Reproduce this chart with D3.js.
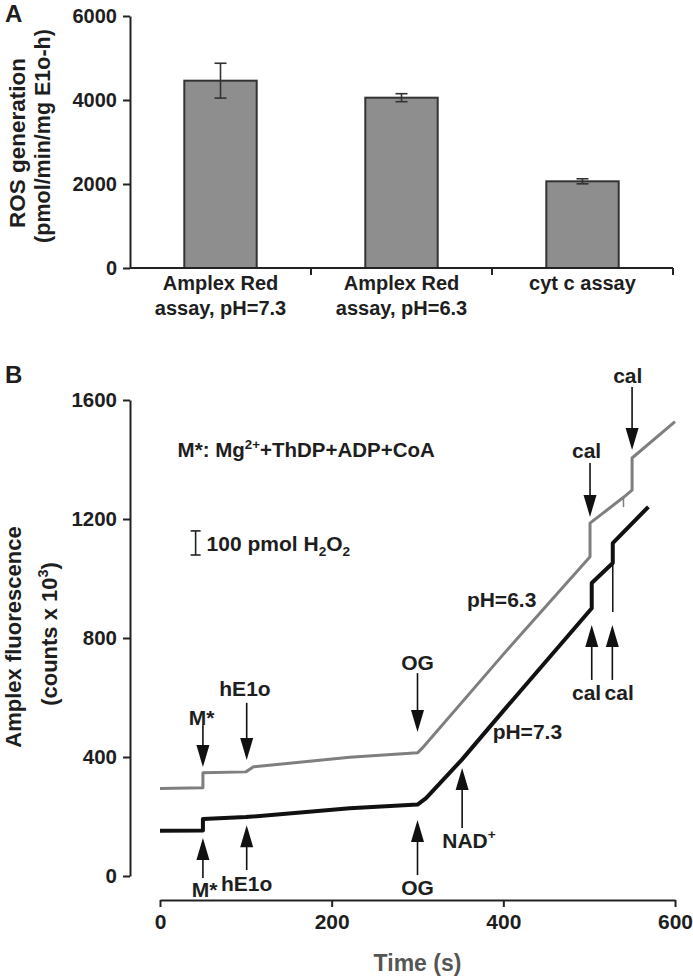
<!DOCTYPE html>
<html><head><meta charset="utf-8">
<script src="https://cdn.jsdelivr.net/npm/d3@7"></script>
<style>
html,body{margin:0;padding:0;background:#fff;}
svg text{font-family:"Liberation Sans",Arial,Helvetica,sans-serif;font-weight:bold;fill:#1e1e1e;}
</style></head><body>
<svg id="chart" width="693" height="976"></svg>
<script>
// ---------- Panel A data ----------
const barCategories = [["Amplex Red", "assay, pH=7.3"], ["Amplex Red", "assay, pH=6.3"], ["cyt c assay"]];
const barValues = [4460, 4055, 2064];
const barErrors = [415, 95, 60];
const barTicks = [0, 2000, 4000, 6000];

// ---------- Panel B data ----------
const timeTicks = [0, 200, 400, 600];
const fluorTicks = [0, 400, 800, 1200, 1600];
// [time (s), counts x 10^3]
const tracePH63 = [[0, 294], [50, 297], [50, 347], [100, 350], [109, 367], [221, 399], [300, 414],
  [305, 428], [400, 745], [501, 1073], [501, 1186], [540, 1273], [550, 1297], [550, 1405], [600, 1527]];
const tracePH73 = [[0, 152], [50, 153], [50, 192], [100, 198], [221, 228], [300, 240], [310, 262], [352, 392],
  [400, 555], [503, 900], [503, 985], [527.5, 1052], [527.5, 1119], [569, 1241]];
// [time, from, to]
const spikesPH63 = [[540, 1273, 1240]];
const spikesPH73 = [[527.5, 1052, 887]];
// arrows: time, tip value, tail value, label, label time, label value
const arrowsDown = [
  {t: 50, tip: 366, tail: 508, label: "M*", lt: 48.5, lv: 534},
  {t: 101, tip: 390, tail: 582, label: "hE1o", lt: 99, lv: 632},
  {t: 300, tip: 484, tail: 682, label: "OG", lt: 300, lv: 719},
  {t: 501, tip: 1207, tail: 1388, label: "cal", lt: 497, lv: 1432},
  {t: 550, tip: 1432, tail: 1644, label: "cal", lt: 545, lv: 1681}
];
const arrowsUp = [
  {t: 50, tip: 128, tail: -7, label: "M*", lt: 52, lv: -44},
  {t: 101, tip: 171, tail: 20, label: "hE1o", lt: 101, lv: -24},
  {t: 300, tip: 188, tail: 3, label: "OG", lt: 300, lv: -37},
  {t: 352, tip: 363, tail: 161, label: [["NAD"], ["+", "sup"]], lt: 360, lv: 121},
  {t: 503, tip: 844, tail: 659, label: "cal", lt: 497, lv: 618},
  {t: 527, tip: 844, tail: 659, label: "cal", lt: 535, lv: 618}
];
const traceLabels = [
  {text: "pH=6.3", t: 398, v: 928},
  {text: "pH=7.3", t: 428, v: 485}
];
const legendNote = {t: 20.5, v: 1432, segs: [["M*: Mg"], ["2+", "sup"], ["+ThDP+ADP+CoA"]]};
const scaleBar = {t: 41.5, v0: 1079, v1: 1160, segs: [["100 pmol H"], ["2", "sub"], ["O"], ["2", "sub"]]};

// ---------- helpers ----------
const svg = d3.select("#chart");
const ink = "#222";

function rich(sel, segs, fs) {
  let shift = 0;
  segs.forEach(s => {
    const ts = sel.append("tspan").text(s[0]);
    let target = 0;
    if (s[1] === "sup") { target = -0.42 * fs; ts.attr("font-size", fs * 0.65); }
    if (s[1] === "sub") { target = 0.28 * fs; ts.attr("font-size", fs * 0.65); }
    if (target !== shift) { ts.attr("dy", target - shift); shift = target; }
  });
}
function styleAxis(g, fs) {
  g.selectAll("path.domain").attr("stroke", ink).attr("stroke-width", 2);
  g.selectAll(".tick line").attr("stroke", ink).attr("stroke-width", 2);
  g.selectAll(".tick text").attr("font-size", fs).attr("fill", "#1e1e1e")
    .attr("font-family", '"Liberation Sans",Arial,sans-serif').attr("font-weight", "bold");
}

// ================= Panel A =================
const yA = d3.scaleLinear().domain([0, 6000]).range([268, 16]);
const slotA = d3.scaleBand().domain(d3.range(barValues.length)).range([130, 673]);
const xA = d3.scaleBand().domain(d3.range(barValues.length)).range([130, 673]).paddingInner(0.6).paddingOuter(0.3);

svg.append("text").attr("x", 5).attr("y", 22).attr("font-size", 24).text("A");

const gAy = svg.append("g").attr("transform", "translate(130,0)")
  .call(d3.axisLeft(yA).tickValues(barTicks).tickSize(7).tickSizeOuter(0).tickPadding(6).tickFormat(d3.format("d")));
styleAxis(gAy, 20);

// bars
svg.append("g").selectAll("rect").data(barValues).join("rect")
  .attr("x", (d, i) => xA(i)).attr("width", xA.bandwidth())
  .attr("y", d => yA(d)).attr("height", d => yA(0) - yA(d))
  .attr("fill", "#8e8e8e").attr("stroke", "#333").attr("stroke-width", 2);

// error bars
const eb = svg.append("g").attr("stroke", "#333").attr("stroke-width", 1.6);
barValues.forEach((v, i) => {
  const cx = xA(i) + xA.bandwidth() / 2;
  eb.append("line").attr("x1", cx).attr("x2", cx).attr("y1", yA(v + barErrors[i])).attr("y2", yA(v - barErrors[i]));
  [v + barErrors[i], v - barErrors[i]].forEach(e =>
    eb.append("line").attr("x1", cx - 6).attr("x2", cx + 6).attr("y1", yA(e)).attr("y2", yA(e)));
});

// x axis A
const gAx = svg.append("g");
gAx.append("line").attr("x1", 130).attr("x2", 673).attr("y1", yA(0)).attr("y2", yA(0)).attr("stroke", ink).attr("stroke-width", 2);
d3.range(barValues.length).forEach(i => {
  const bx = slotA(i) + slotA.bandwidth();
  gAx.append("line").attr("x1", bx).attr("x2", bx).attr("y1", yA(0)).attr("y2", yA(0) + 7).attr("stroke", ink).attr("stroke-width", 2);
});
barCategories.forEach((lines, i) => {
  const cx = slotA(i) + slotA.bandwidth() / 2;
  lines.forEach((ln, j) => {
    svg.append("text").attr("x", cx).attr("y", 290 + j * 25).attr("text-anchor", "middle")
      .attr("font-size", 20).text(ln);
  });
});

// y title A
svg.append("text").attr("transform", "translate(25,143) rotate(-90)").attr("text-anchor", "middle")
  .attr("font-size", 22.5).text("ROS generation");
svg.append("text").attr("transform", "translate(50,136) rotate(-90)").attr("text-anchor", "middle")
  .attr("font-size", 21.5).text("(pmol/min/mg E1o-h)");

// ================= Panel B =================
const xB = d3.scaleLinear().domain([0, 600]).range([160, 675]);
const yB = d3.scaleLinear().domain([0, 1600]).range([876, 400]);

svg.append("text").attr("x", 5).attr("y", 383).attr("font-size", 24).text("B");

const gBy = svg.append("g").attr("transform", "translate(130,0)")
  .call(d3.axisLeft(yB).tickValues(fluorTicks).tickSize(7).tickSizeOuter(0).tickPadding(6).tickFormat(d3.format("d")));
styleAxis(gBy, 20.5);
const gBx = svg.append("g").attr("transform", "translate(0,900)")
  .call(d3.axisBottom(xB).tickValues(timeTicks).tickSize(7).tickSizeOuter(0).tickPadding(7).tickFormat(d3.format("d")));
styleAxis(gBx, 21);

svg.append("text").attr("x", (xB(0) + xB(600)) / 2).attr("y", 971).attr("text-anchor", "middle")
  .attr("font-size", 23).style("fill", "#555").text("Time (s)");

svg.append("text").attr("transform", "translate(21,637) rotate(-90)").attr("text-anchor", "middle")
  .attr("font-size", 22).text("Amplex fluorescence");
const tY2 = svg.append("text").attr("transform", "translate(57,634) rotate(-90)").attr("text-anchor", "middle")
  .attr("font-size", 22);
rich(tY2, [["(counts x 10"], ["3", "sup"], [")"]], 22);

// traces
const line = d3.line().x(d => xB(d[0])).y(d => yB(d[1]));
svg.append("path").datum(tracePH63).attr("d", line).attr("fill", "none")
  .attr("stroke", "#7f7f7f").attr("stroke-width", 3).attr("stroke-linejoin", "round");
svg.append("path").datum(tracePH73).attr("d", line).attr("fill", "none")
  .attr("stroke", "#111").attr("stroke-width", 4).attr("stroke-linejoin", "round");
spikesPH63.forEach(s => svg.append("line").attr("x1", xB(s[0])).attr("x2", xB(s[0]))
  .attr("y1", yB(s[1])).attr("y2", yB(s[2])).attr("stroke", "#7f7f7f").attr("stroke-width", 1.5));
spikesPH73.forEach(s => svg.append("line").attr("x1", xB(s[0])).attr("x2", xB(s[0]))
  .attr("y1", yB(s[1])).attr("y2", yB(s[2])).attr("stroke", "#111").attr("stroke-width", 1.5));

// arrows
const ga = svg.append("g");
function arrow(a) {
  const x = xB(a.t), yt = yB(a.tip), yl = yB(a.tail);
  const dir = yl < yt ? 1 : -1; // 1 = pointing down
  const hl = 22, hw = 6.5;
  ga.append("line").attr("x1", x).attr("x2", x).attr("y1", yl).attr("y2", yt - dir * (hl - 2))
    .attr("stroke", "#111").attr("stroke-width", 1.6);
  ga.append("path").attr("d", `M${x},${yt}L${x - hw},${yt - dir * hl}L${x + hw},${yt - dir * hl}Z`).attr("fill", "#111");
  const t = ga.append("text").attr("x", xB(a.lt)).attr("y", yB(a.lv)).attr("dy", "0.36em")
    .attr("text-anchor", "middle").attr("font-size", 21);
  if (typeof a.label === "string") t.text(a.label); else rich(t, a.label, 21);
}
arrowsDown.forEach(arrow);
arrowsUp.forEach(arrow);

traceLabels.forEach(l => svg.append("text").attr("x", xB(l.t)).attr("y", yB(l.v)).attr("dy", "0.36em")
  .attr("text-anchor", "middle").attr("font-size", 21).text(l.text));

// legend note
const ln = svg.append("text").attr("x", xB(legendNote.t)).attr("y", yB(legendNote.v)).attr("dy", "0.36em")
  .attr("font-size", 20.5);
rich(ln, legendNote.segs, 20.5);

// scale bar
const sbx = xB(scaleBar.t);
const gsb = svg.append("g").attr("stroke", "#222").attr("stroke-width", 1.6);
gsb.append("line").attr("x1", sbx).attr("x2", sbx).attr("y1", yB(scaleBar.v0)).attr("y2", yB(scaleBar.v1));
[scaleBar.v0, scaleBar.v1].forEach(v => gsb.append("line").attr("x1", sbx - 5).attr("x2", sbx + 5)
  .attr("y1", yB(v)).attr("y2", yB(v)));
const sbt = svg.append("text").attr("x", sbx + 11).attr("y", yB((scaleBar.v0 + scaleBar.v1) / 2)).attr("dy", "0.36em")
  .attr("font-size", 21);
rich(sbt, scaleBar.segs, 21);
</script>
</body></html>
